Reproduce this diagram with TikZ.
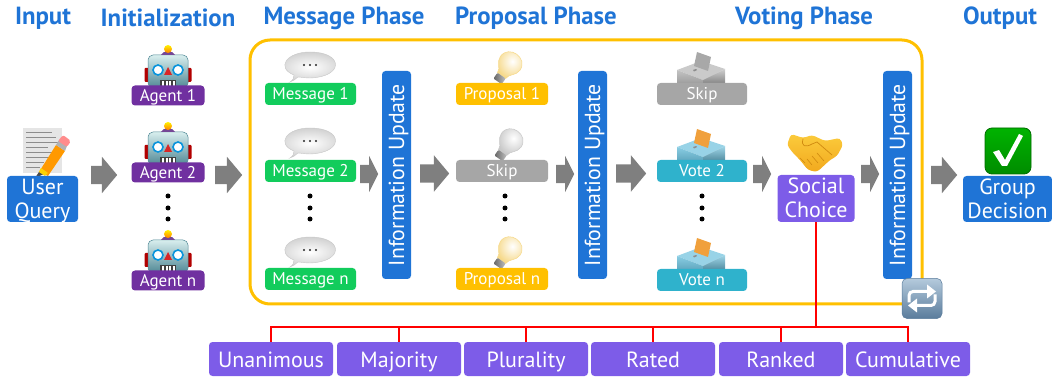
\documentclass[tikz,border=0pt]{standalone}
\usepackage{fontspec}
\setmainfont{PT Sans}
\usetikzlibrary{shapes.arrows}
\definecolor{hblue}{HTML}{1F74D6}
\definecolor{agentp}{HTML}{7030A0}
\definecolor{msgg}{HTML}{12CC5C}
\definecolor{propy}{HTML}{FFC000}
\definecolor{skipg}{HTML}{A6A6A6}
\definecolor{votec}{HTML}{2FB2CC}
\definecolor{socp}{HTML}{7D5CE8}
\definecolor{arrg}{HTML}{7F7F7F}
\definecolor{bulby}{HTML}{F6D98A}
\definecolor{bulbg}{HTML}{C8C8C8}
\definecolor{boxg}{HTML}{B4B4B4}
\definecolor{boxb}{HTML}{6CC0DC}
\definecolor{papero}{HTML}{F0A03C}
\definecolor{paperg}{HTML}{A8A8A8}
\definecolor{handt}{HTML}{FBCB3C}
\definecolor{handb}{HTML}{F2A91E}
\definecolor{handl}{HTML}{D08A10}
\definecolor{loopt}{HTML}{B4CADC}
\definecolor{loopb}{HTML}{5A7C9C}
\definecolor{robt}{HTML}{D8EEEE}
\definecolor{robb}{HTML}{4F8794}
\tikzset{
  x=1pt,y=-1pt,
  lab/.style={rounded corners=3.5pt,text=white,inner sep=0pt,align=center,text height=13pt,text depth=1pt,font=\fontsize{17}{24}\selectfont},
  bluebox/.style={lab,fill=hblue,text height=39pt,text depth=0pt,font=\fontsize{22}{24}\selectfont},
  head/.style={text=hblue,inner sep=0pt,font=\fontsize{24.8}{26}\selectfont\bfseries},
  infobox/.style={lab,fill=hblue,minimum width=208pt,minimum height=29pt,text height=15pt,text depth=0pt,font=\fontsize{21.8}{24}\selectfont},
  rulebox/.style={lab,fill=socp,minimum width=124pt,minimum height=34pt,text height=16pt,text depth=0pt,font=\fontsize{22}{24}\selectfont},
  redline/.style={draw=red,line width=1.4pt},
  bigarrow/.style={single arrow,anchor=tail,fill=arrg,inner sep=0pt,text height=18pt,text depth=0pt,minimum width=36pt,single arrow head extend=9pt,single arrow tip angle=100},
  smallarrow/.style={bigarrow,minimum height=18pt,single arrow tip angle=127},
  vdot/.style={circle,fill=black,inner sep=0pt,minimum size=5pt}
}
\tikzset{
  robot/.pic={
    \fill[red!70!black,rounded corners=1pt] (-23.5,-18) rectangle (23.5,-4);
    \shade[top color=robt,bottom color=robb,draw=robb,line width=.5pt,rounded corners=5pt] (-20,2) rectangle (20,-31);
    \fill[agentp!70!gray] (-7,-31) .. controls (-5,-36) and (5,-36) .. (7,-31) -- cycle;
    \shade[top color=yellow!90!orange,bottom color=orange] (0,-37) circle (4);
    \foreach \s in {-1,1}{\fill[white] (\s*10,-16) circle (5); \draw[cyan!80!blue,line width=1.6pt] (\s*10,-16) circle (5);}
    \fill[red!70!gray] (0,-19) -- (4,-11) -- (-4,-11) -- cycle;
    \fill[black!75] (-8,-6) rectangle (8,0);
    \foreach \s in {-6,-2.5,1,4.5}{\fill[white] (\s,-5) rectangle (\s+2,0);}
  },
  bubble/.pic={
    \shade[inner color=white,outer color=black!18,draw=black!22,line width=.4pt]
      (-20,17) .. controls (-17,15) and (-16,13) .. (-16,10) .. controls (-34,3) and (-24,-13) .. (0,-13) .. controls (34,-13) and (34,12) .. (0,13) .. controls (-5,13) and (-10,12) .. (-12,12) .. controls (-14,14) and (-17,16) .. (-20,17) -- cycle;
    \foreach \s in {-6,0,6}{\fill[black!85] (\s,0) circle (1.2);}
  },
  bulb/.pic={
    \begin{scope}[rotate=-35]
      \shade[inner color=white,outer color=#1,draw=#1,line width=.5pt]
        (-5,13) .. controls (-5,7) and (-12,5) .. (-12,-2) .. controls (-12,-17) and (12,-17) .. (12,-2) .. controls (12,5) and (5,7) .. (5,13) -- cycle;
      \shade[left color=black!60,right color=black!25,rounded corners=1pt] (-5,13) rectangle (5,20);
    \end{scope}
  },
  ballot/.pic={
    \fill[#1!70!white] (-25,-13) -- (-1,-22) -- (23,-14) -- (1,-3) -- cycle;
    \fill[black!45] (-9,-13) -- (-6,-14) -- (-5,-13) -- (-8,-11.5) -- cycle;
    \shade[top color=#1!80!white,bottom color=#1!85!black] (-25,-13) -- (1,-3) -- (1,2) -- (-25,2) -- cycle;
    \shade[top color=#1!65!white,bottom color=#1!70!black] (1,-3) -- (23,-14) -- (23,2) -- (1,2) -- cycle;
  },
  paper/.pic={
    \fill[#1] (-5,-31) -- (9,-26) -- (6,-12) -- (-8,-17) -- cycle;
  },
  checkbox/.pic={
    \shade[top color=green!70!black,bottom color=green!55!black,draw=black!30!green!60!black,line width=.8pt,rounded corners=7pt] (-23,-23) rectangle (23,23);
    \fill[white] (-15,1) -- (-9,-1) -- (-3,9) -- (11,-17) -- (15,-15) -- (-1,15) -- (-6,15) -- cycle;
  },
  hands/.pic={
    \shade[top color=handt,bottom color=handb,rounded corners=3pt]
      (-28,-5) -- (-24,-16) -- (-12,-12) -- (-3,-15) -- (10,-9) -- (25,-12) -- (28,-5) -- (22,6) -- (15,10) -- (2,22) -- (-7,20) -- (-15,10) -- (-22,3) -- cycle;
    \draw[handl,line width=.7pt,line cap=round] (-12,-11) .. controls (-14,-4) and (-10,-2) .. (-3,-6) -- (2,-8) -- (17,5);
    \draw[handl,line width=.6pt,line cap=round] (-8,9) -- (-3,15) (-3,6) -- (3,13) (2,3) -- (9,11) (-15,8) -- (-10,13);
  },
  notepad/.pic={
    \fill[black!10] (-19.5,-22) rectangle (20,23);
    \foreach \y/\l in {-18/26,-13/30,-8/32,-3/22,2/26,7/30,12/18,17/14}{\draw[black!45,line width=.3pt] (-16,\y) -- (-16+\l,\y);}
    \fill[orange!80!yellow] (-3,22) -- (14,-5) -- (23,1) -- (6,26) -- cycle;
    \fill[black!70] (-7,28) -- (-3,22) -- (2,24) -- cycle;
    \fill[yellow!70!orange] (-3,22) -- (-1,18) -- (6,23) -- (3,26) -- cycle;
    \fill[gray!60] (14,-5) -- (17,-10) -- (25,-4) -- (23,1) -- cycle;
    \fill[red!45!white,rounded corners=2pt] (16,-9) -- (21,-15) -- (29,-9) -- (25,-3) -- cycle;
  },
  loop/.pic={
    \shade[top color=loopt,bottom color=loopb,rounded corners=5pt,draw=loopb,line width=.5pt] (-20,-20) rectangle (20,20);
    \draw[white,line width=3pt,rounded corners=4pt] (-13,4) -- (-13,-7) -- (6,-7);
    \fill[white] (5,-14) -- (14,-7) -- (5,0) -- cycle;
    \draw[white,line width=3pt,rounded corners=4pt] (13,-4) -- (13,7) -- (-6,7);
    \fill[white] (-5,14) -- (-14,7) -- (-5,0) -- cycle;
  }
}
\begin{document}
\begin{tikzpicture}
\useasboundingbox (0,0) rectangle (1052,379);
% headings
\node[head] (hi) at (43,18) {Input};
\node[head] (hin) at (168,18) {Initialization};
\node[head] (hm) at (344,18) {Message Phase};
\node[head] (hp) at (536,18) {Proposal Phase};
\node[head] (hv) at (804,18) {Voting Phase};
\node[head] (ho) at (1000,18) {Output};
% frame
\draw[propy,line width=3pt,rounded corners=20pt] (250,40) rectangle (922,304);
% input
\pic at (42,150) {notepad};
\node[bluebox,minimum width=71pt,minimum height=46pt] (query) at (42.5,199) {User\\Query};
% agents
\pic at (168,86) {robot};
\pic at (168,163) {robot};
\pic at (168,271) {robot};
\foreach \n/\t/\y in {a1/Agent 1/95.5,a2/Agent 2/172.5,an/Agent n/280.5}
  \node[lab,fill=agentp,minimum width=73pt,minimum height=20pt] (\n) at (168,\y) {\t};
\foreach \y in {196,208,219} \node[vdot] at (168,\y) {};
% messages
\pic at (310,65) {bubble};
\pic at (310,141) {bubble};
\pic at (310,250) {bubble};
\foreach \n/\t/\y in {m1/Message 1/94,m2/Message 2/171,mn/Message n/279}
  \node[lab,fill=msgg,minimum width=91pt,minimum height=22pt] (\n) at (310.5,\y) {\t};
\foreach \y in {196,208,219} \node[vdot] at (310,\y) {};
\node[infobox,rotate=90] (i1) at (396.5,175) {Information Update};
% proposals
\pic at (509,65) {bulb=bulby};
\pic at (510,142) {bulb=bulbg};
\pic at (509,250) {bulb=bulby};
\node[lab,fill=propy,minimum width=92pt,minimum height=22pt] (p1) at (502,94) {Proposal 1};
\node[lab,fill=skipg,minimum width=92pt,minimum height=22pt] (p2) at (502,171) {Skip};
\node[lab,fill=propy,minimum width=92pt,minimum height=22pt] (pn) at (502,279) {Proposal n};
\foreach \y in {196,208,219} \node[vdot] at (505,\y) {};
\node[infobox,rotate=90] (i2) at (592.5,175) {Information Update};
% votes
\pic at (702,83) {ballot=boxg};
\pic at (702,83) {paper=paperg};
\pic at (702,160) {ballot=boxb};
\pic at (702,160) {paper=papero};
\pic at (702,269) {ballot=boxb};
\pic at (702,269) {paper=papero};
\node[lab,fill=skipg,minimum width=90pt,minimum height=22pt] (v1) at (702,94) {Skip};
\node[lab,fill=votec,minimum width=90pt,minimum height=22pt] (v2) at (702,171) {Vote 2};
\node[lab,fill=votec,minimum width=90pt,minimum height=22pt] (vn) at (702,280) {Vote n};
\foreach \y in {196,208,219} \node[vdot] at (702,\y) {};
% social choice
\pic at (815,150) {hands};
\node[bluebox,fill=socp,minimum width=77pt,minimum height=47pt] (sc) at (816,198.5) {Social\\Choice};
\node[infobox,rotate=90] (i3) at (897.5,175) {Information Update};
\pic at (922,298.5) {loop};
% output
\pic at (1008,151) {checkbox};
\node[bluebox,minimum width=89pt,minimum height=46pt] (gd) at (1007.5,199) {Group\\Decision};
% flow arrows
\node[bigarrow,minimum height=26pt] (f1) at (91,175) {};
\node[bigarrow,minimum height=27pt] (f2) at (215,175) {};
\node[smallarrow] (f3) at (360,174) {};
\node[bigarrow,minimum height=29pt] (f4) at (420,173.5) {};
\node[smallarrow] (f5) at (556,174) {};
\node[bigarrow,minimum height=30pt] (f6) at (616,173.5) {};
\node[smallarrow] (f7) at (753,174) {};
\node[smallarrow] (f8) at (861,174) {};
\node[bigarrow,minimum height=26pt] (f9) at (931,175) {};
% choice rules
\node[rulebox] (r1) at (271,359) {Unanimous};
\node[rulebox] (r2) at (399,359) {Majority};
\node[rulebox] (r3) at (526,359) {Plurality};
\node[rulebox] (r4) at (653,359) {Rated};
\node[rulebox] (r5) at (781,359) {Ranked};
\node[rulebox] (r6) at (908,359) {Cumulative};
\coordinate (bus) at (816,327);
\draw[redline] (sc.south) -- (bus) (bus) -| (r1.north) (bus) -| (r2.north) (bus) -| (r3.north) (bus) -| (r4.north) (bus) -| (r5.north) (bus) -| (r6.north);
\end{tikzpicture}
\end{document}
